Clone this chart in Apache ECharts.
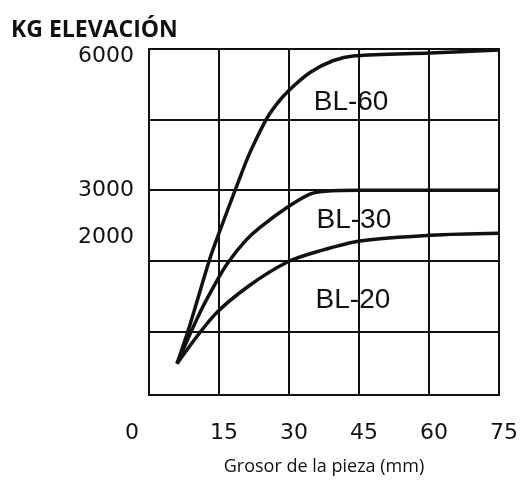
<!DOCTYPE html>
<html><head><meta charset="utf-8">
<script src="https://cdn.jsdelivr.net/npm/echarts@6/dist/echarts.min.js"></script>
<style>html,body{margin:0;padding:0;background:#fff}#c{width:524px;height:481px}</style>
</head><body><div id="c"></div>
<script>
// Axis ticks / labels
const xTicks = [0, 15, 30, 45, 60, 75];
const yGridValues = [0, 1500, 3000, 4500, 6000];
const yTickLabels = [2000, 3000, 6000];

// Curves: [thickness mm, kg]
const bl60 = [[6.0,-688],[8.8,146],[12.9,1500],[14.6,1979],[19.5,3271],[21.6,3792],[25.1,4500],[27.4,4833],[29.8,5104],[34.5,5500],[39.4,5750],[44.1,5854],[60.2,5917],[75,5979]];
const bl30 = [[6.0,-688],[10.9,396],[14.6,1083],[16.9,1458],[20.6,1917],[23.8,2208],[29.8,2646],[34.5,2917],[37.7,2979],[45.2,3000],[75,3000]];
const bl20 = [[6.0,-688],[14.1,354],[21.6,979],[29.8,1479],[36.6,1708],[45.2,1917],[60.4,2042],[75,2083]];

const seriesNames = ['BL-60', 'BL-30', 'BL-20'];
const seriesData = [bl60, bl30, bl20];
const labelCoords = [[43.3, 4865], [43.9, 2350], [43.7, 650]];

const chart = echarts.init(document.getElementById('c'), null, {renderer: 'canvas'});
chart.setOption({
  animation: false,
  backgroundColor: '#fff',
  title: {
    text: 'KG ELEVACIÓN', left: 6, top: 14,
    textStyle: {fontFamily: 'Open Sans', fontWeight: 'bold', fontSize: 23, color: '#111'}
  },
  grid: {left: 149, right: 25, top: 49, bottom: 79, show: true, borderColor: '#111', borderWidth: 2, containLabel: false},
  xAxis: {
    type: 'value', min: 0, max: 75, interval: 15,
    axisLine: {show: true, lineStyle: {color: '#111', width: 2}},
    axisTick: {show: true, length: 4, lineStyle: {color: '#111', width: 2}},
    splitLine: {show: true, lineStyle: {color: '#111', width: 2}},
    axisLabel: {
      margin: 27, color: '#111', fontFamily: 'DejaVu Sans', fontSize: 22,
      formatter: v => v === 0 ? '{z|0}' : '{n|' + v + '}',
      rich: {
        z: {fontFamily: 'DejaVu Sans', fontSize: 22, color: '#111', padding: [0, 34, 0, 0]},
        n: {fontFamily: 'DejaVu Sans', fontSize: 22, color: '#111', padding: [0, 0, 0, 10]}
      }
    },
    name: 'Grosor de la pieza (mm)', nameLocation: 'middle', nameGap: 63,
    nameTextStyle: {fontFamily: 'Open Sans', fontSize: 18, color: '#111'}
  },
  yAxis: {
    type: 'value', min: -1354, max: 6000,
    axisLine: {show: true, lineStyle: {color: '#111', width: 2}},
    axisTick: {show: false, customValues: yGridValues},
    splitLine: {show: true, lineStyle: {color: '#111', width: 2}},
    axisLabel: {
      customValues: yTickLabels, margin: 15, color: '#111', fontFamily: 'DejaVu Sans', fontSize: 22,
      formatter: v => v === 6000 ? '{t|6000}' : '{n|' + v + '}',
      rich: {
        t: {fontFamily: 'DejaVu Sans', fontSize: 22, color: '#111', padding: [14, 0, 0, 0]},
        n: {fontFamily: 'DejaVu Sans', fontSize: 22, color: '#111'}
      }
    }
  },
  series: seriesData.map((d, i) => ({
    name: seriesNames[i], type: 'line', data: d, smooth: 0.3,
    symbol: 'none', lineStyle: {color: '#111', width: 3.5}, z: 3,
    markPoint: {
      symbol: 'circle', symbolSize: 0, silent: true,
      label: {show: true, position: 'inside', formatter: seriesNames[i], color: '#111',
              fontFamily: 'Liberation Sans', fontSize: 28},
      data: [{coord: labelCoords[i]}]
    }
  }))
});
</script></body></html>
